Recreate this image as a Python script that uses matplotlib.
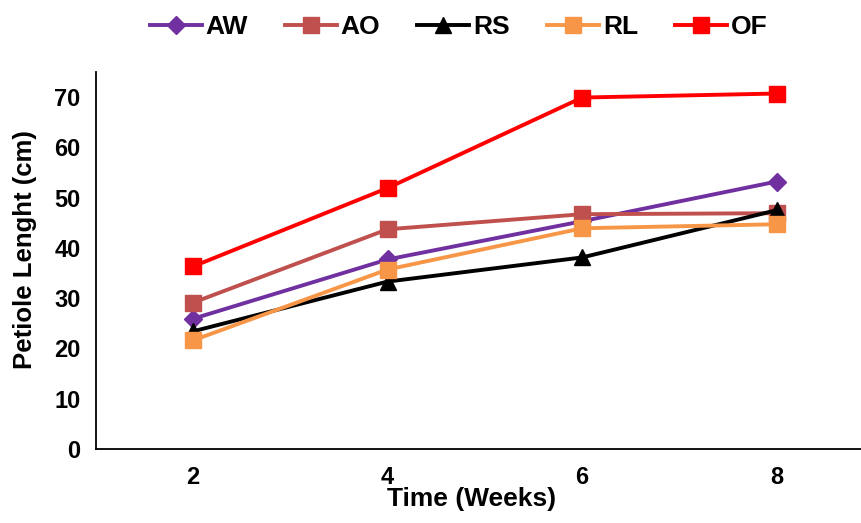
import matplotlib.pyplot as plt

plt.rcParams['font.family'] = ['Liberation Sans', 'DejaVu Sans']
plt.rcParams['font.weight'] = 'bold'

weeks = [2, 4, 6, 8]
series_names = ['AW', 'AO', 'RS', 'RL', 'OF']
aw = [25.9, 37.7, 45.3, 53.2]
ao = [29.1, 43.7, 46.7, 46.9]
rs = [23.4, 33.3, 38.1, 47.5]
rl = [21.6, 35.7, 43.9, 44.7]
of = [36.3, 51.9, 69.9, 70.7]

values = [aw, ao, rs, rl, of]
colors = ['#7030A0', '#C0504D', '#000000', '#F79646', '#FF0000']
markers = ['D', 's', '^', 's', 's']
sizes = [9, 11.5, 11, 11.5, 11.5]

fig = plt.figure(figsize=(8.62, 5.23), dpi=100)
ax = fig.add_axes([0.111, 0.1415, 0.903, 0.721])

for name, vals, c, m, s in zip(series_names, values, colors, markers, sizes):
    ax.plot(weeks, vals, color=c, marker=m, markersize=s, linewidth=2.8, label=name)

ax.set_xlim(1, 9)
ax.set_ylim(0, 75)
ax.set_xticks(weeks)
ax.set_yticks(range(0, 80, 10))
ax.tick_params(length=0, labelsize=17)
ax.tick_params(axis='y', pad=11)
ax.tick_params(axis='x', pad=12)
for lab in ax.get_xticklabels() + ax.get_yticklabels():
    lab.set_fontweight('bold')
ax.spines['top'].set_visible(False)
ax.spines['right'].set_visible(False)
ax.spines['left'].set_linewidth(1.3)
ax.spines['bottom'].set_linewidth(1.3)

# axis titles placed in figure coords
fig.text(25 / 862, 1 - 250 / 523, 'Petiole Lenght (cm)', rotation=90,
         ha='center', va='center', fontsize=18.5, fontweight='bold')
fig.text(472 / 862, 1 - 499 / 523, 'Time (Weeks)',
         ha='center', va='center', fontsize=19, fontweight='bold')

fig.legend(loc='center', bbox_to_anchor=(0.532, 0.948), ncol=5, frameon=False,
           prop={'size': 19, 'weight': 'bold'}, handlelength=1.97, columnspacing=1.4,
           handletextpad=0.15)

fig.savefig('out.png', dpi=100)
